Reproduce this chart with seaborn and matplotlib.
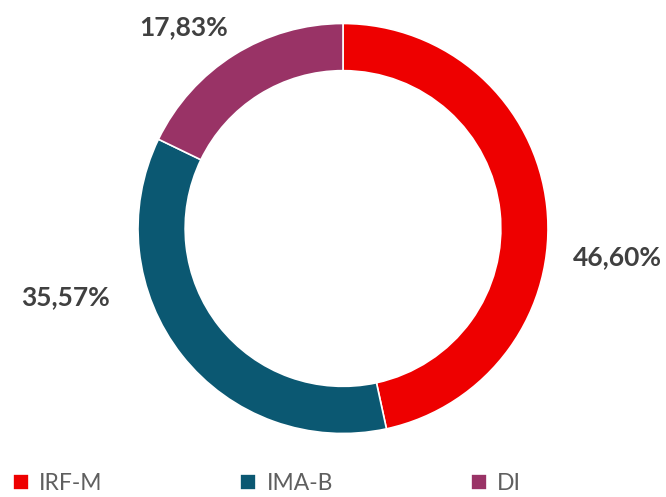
import matplotlib
matplotlib.use("Agg")
import matplotlib.pyplot as plt
import seaborn as sns

categories = ["IRF-M", "IMA-B", "DI"]
values = [46.60, 35.57, 17.83]
labels = ["46,60%", "35,57%", "17,83%"]
colors = ["#EE0000", "#0B5872", "#993366"]

sns.set_theme(style="white")
plt.rcParams['font.family'] = ['Lato', 'DejaVu Sans']

fig = plt.figure(figsize=(6.66, 4.97), dpi=100)
W, H = 666, 497
cx, cy, r = 343, 228.5, 205
ax = fig.add_axes([(cx - r) / W, (H - cy - r) / H, 2 * r / W, 2 * r / H])

wedges, _ = ax.pie(values, colors=colors, startangle=90, counterclock=False,
                   radius=1.0, wedgeprops=dict(width=0.23, edgecolor="white", linewidth=1.2))
ax.set_xlim(-1, 1)
ax.set_ylim(-1, 1)
ax.set_aspect("equal")
ax.axis("off")

label_pos = [(1.341, -0.139), (-1.356, -0.334), (-0.776, 0.980)]
for (x, y), t in zip(label_pos, labels):
    ax.text(x, y, t, ha="center", va="center", fontsize=19, fontweight="bold",
            color="#404040", clip_on=False)

fig.legend(wedges, categories, loc="lower left", ncol=3,
           bbox_to_anchor=(13 / W, 3 / H), frameon=False, borderpad=0,
           fontsize=16.5, labelcolor="#5f5f5f", handlelength=0.7, handleheight=0.7,
           handletextpad=0.45, columnspacing=6.0, borderaxespad=0)

fig.savefig("out.png", dpi=100, facecolor="white")
